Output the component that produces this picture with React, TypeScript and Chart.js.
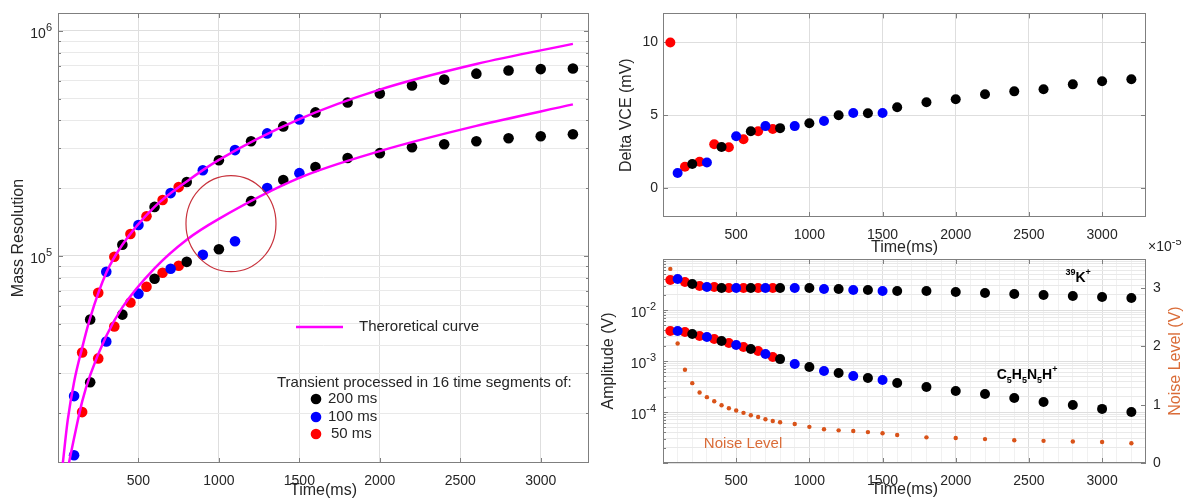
import React, { useEffect, useRef } from 'react';
import { Chart, registerables } from 'chart.js';

Chart.register(...registerables);

const FONT = "'Liberation Sans', Arial, Helvetica, sans-serif";
const AXIS_COLOR = '#262626';
const BOX_COLOR = '#7f7f7f';
const GRID_MAJOR = '#dedede';
const GRID_MINOR = '#e9e9e9';
const GRID_FAINT = '#f1f1f1';
const C_BLACK = '#000000';
const C_BLUE = '#0000ff';
const C_RED = '#ff0000';
const C_MAGENTA = '#ff00ff';
const C_NOISE = '#D95319';
const C_NOISE_TEXT = '#DA6C38';
const C_CIRCLE = '#c8323c';

Chart.defaults.font.family = FONT;
Chart.defaults.color = AXIS_COLOR;

// ---------- time bases (ms) ----------
const T_BLACK = [200, 400, 600, 800, 1000, 1200, 1400, 1600, 1800, 2000, 2200, 2400, 2600, 2800, 3000, 3200];
const T_BLUE = [100, 300, 500, 700, 900, 1100, 1300, 1500];
const T_RED = [150, 250, 350, 450, 550, 650, 750];
const T_RED_FULL = [50, 150, 250, 350, 450, 550, 650, 750];
const T_NOISE = [50, 100, 150, 200, 250, 300, 350, 400, 450, 500, 550, 600, 650, 700, 750, 800, 900, 1000, 1100, 1200, 1300, 1400, 1500, 1600, 1800, 2000, 2200, 2400, 2600, 2800, 3000, 3200];

// ---------- tick labels ----------
const X_TICKS = [500, 1000, 1500, 2000, 2500, 3000];
const RES_EXPONENTS = [5, 6];
const AMP_EXPONENTS = [-2, -3, -4];
const DVCE_TICKS = [0, 5, 10];
const NOISE_TICKS = [0, 1, 2, 3];

// ---------- left panel: mass resolution ----------
const RES_UP_BLACK = [52100, 112000, 165000, 213000, 266000, 323000, 376000, 434000, 480000, 526000, 571000, 607000, 645000, 666000, 676000, 680000];
const RES_UP_BLUE = [23800, 84900, 137000, 190000, 240000, 295000, 350000, 404000];
const RES_UP_RED = [37200, 68500, 99000, 125000, 150000, 177000, 202000];
const RES_LOW_BLACK = [27400, 54800, 79100, 94000, 107000, 175000, 217000, 248000, 272000, 286000, 304000, 313000, 323000, 333000, 340000, 347000];
const RES_LOW_BLUE = [13000, 41600, 67900, 87600, 101000, 116000, 200000, 233000];
const RES_LOW_RED = [20200, 35000, 48500, 62000, 72900, 84100, 90300];

const T_THEORY_UP = [30, 60, 100, 150, 200, 300, 400, 600, 800, 1000, 1500, 2000, 2600, 3200];
const RES_THEORY_UP = [12000, 18500, 27500, 39000, 53000, 84000, 112000, 165000, 214000, 267000, 405000, 548000, 712000, 875000];
const T_THEORY_LOW = [68, 100, 150, 200, 300, 400, 600, 800, 1000, 1500, 2000, 2600, 3200];
const RES_THEORY_LOW = [12000, 15500, 22500, 29500, 44000, 59000, 88000, 118000, 146000, 222000, 292000, 378000, 471000];

const CIRCLE_T = 1075;
const CIRCLE_RES = 139000;

// ---------- top right: delta VCE (mV) ----------
const DVCE_BLACK = [1.64, 2.81, 3.9, 4.11, 4.45, 5.0, 5.14, 5.55, 5.89, 6.1, 6.44, 6.64, 6.78, 7.12, 7.33, 7.47];
const DVCE_BLUE = [1.03, 1.75, 3.55, 4.25, 4.25, 4.6, 5.15, 5.15];
const DVCE_RED = [10, 1.45, 1.8, 3.0, 2.8, 3.35, 3.9, 4.05];

// ---------- bottom right: amplitude (V) and noise (x1e-5 V) ----------
const AMP_K_BLACK = [0.0323, 0.027, 0.027, 0.027, 0.027, 0.0258, 0.0247, 0.0236, 0.0236, 0.0226, 0.0216, 0.0206, 0.0197, 0.0188, 0.018, 0.0172];
const AMP_K_BLUE = [0.0405, 0.0283, 0.027, 0.027, 0.027, 0.0258, 0.0247, 0.0236];
const AMP_K_RED = [0.0387, 0.0354, 0.0296, 0.0283, 0.027, 0.027, 0.027, 0.027];
const AMP_C_BLACK = [0.00338, 0.00247, 0.00172, 0.00109, 0.000762, 0.000582, 0.000464, 0.00037, 0.000309, 0.000258, 0.000225, 0.000188, 0.000157, 0.000137, 0.000115, 0.0001];
const AMP_C_BLUE = [0.00387, 0.00296, 0.00206, 0.00137, 0.000873, 0.000637, 0.000508, 0.000424];
const AMP_C_RED = [0.00387, 0.0037, 0.00309, 0.0027, 0.00225, 0.00188, 0.00157, 0.0012];
const NOISE = [3.33, 2.05, 1.6, 1.37, 1.21, 1.13, 1.06, 0.99, 0.94, 0.9, 0.86, 0.82, 0.79, 0.75, 0.72, 0.7, 0.67, 0.62, 0.58, 0.56, 0.55, 0.53, 0.51, 0.48, 0.44, 0.43, 0.41, 0.39, 0.38, 0.37, 0.36, 0.34];

const LABEL_K = { t: 2750, v: 0.042 };
const LABEL_C = { t: 2280, v: 0.00053 };
const LABEL_NOISE = { t: 547, v: 2.36e-5 };

// ---------- helpers ----------
const pts = (xs: number[], ys: number[]) => xs.map((x, i) => ({ x, y: ys[i] }));
const isPow10 = (v: number) => Math.abs(Math.log10(v) - Math.round(Math.log10(v))) < 1e-6;
function logGrid(minExp: number, maxExp: number) {
  const out: number[] = [];
  for (let e = minExp; e < maxExp; e++) {
    for (let m = 1; m <= 9; m++) out.push(Number((m * Math.pow(10, e)).toPrecision(3)));
  }
  out.push(Number(Math.pow(10, maxExp).toPrecision(3)));
  return out;
}

function dots(xs: number[], ys: number[], color: string, r: number, yAxisID = 'y') {
  return {
    data: pts(xs, ys),
    yAxisID,
    showLine: false,
    backgroundColor: color,
    borderColor: color,
    pointRadius: r,
    pointHoverRadius: r,
    pointBorderWidth: 0,
    clip: false,
  };
}

function drawPow10(ctx: CanvasRenderingContext2D, xRight: number, y: number, exp: number) {
  const e = String(exp);
  ctx.save();
  ctx.fillStyle = AXIS_COLOR;
  ctx.textBaseline = 'middle';
  ctx.textAlign = 'left';
  ctx.font = `11px ${FONT}`;
  const ew = ctx.measureText(e).width;
  ctx.font = `14px ${FONT}`;
  const bw = ctx.measureText('10').width;
  ctx.fillText('10', xRight - ew - bw, y + 3);
  ctx.font = `11px ${FONT}`;
  ctx.fillText(e, xRight - ew, y - 3);
  ctx.restore();
}

type Seg = [string, 'n' | 'sub' | 'sup'];
function drawChem(ctx: CanvasRenderingContext2D, x: number, y: number, segs: Seg[]) {
  ctx.save();
  ctx.fillStyle = '#000';
  ctx.textBaseline = 'middle';
  ctx.textAlign = 'left';
  let cx = x;
  for (const [s, kind] of segs) {
    ctx.font = kind === 'n' ? `bold 14px ${FONT}` : `bold 9px ${FONT}`;
    const dy = kind === 'sub' ? 5 : kind === 'sup' ? -6 : 0;
    ctx.fillText(s, cx, y + dy);
    cx += ctx.measureText(s).width;
  }
  ctx.restore();
}

const framePlugin = {
  id: 'matlabFrame',
  beforeDatasetsDraw(chart: any) {
    const { ctx, chartArea: a } = chart;
    const xs = chart.scales.x;
    const ys = chart.scales.y;
    const y1 = chart.scales.y1;
    ctx.save();
    ctx.strokeStyle = BOX_COLOR;
    ctx.lineWidth = 1;
    ctx.beginPath();
    X_TICKS.forEach((v) => {
      const px = Math.round(xs.getPixelForValue(v)) + 0.5;
      ctx.moveTo(px, a.bottom);
      ctx.lineTo(px, a.bottom - 5);
      ctx.moveTo(px, a.top);
      ctx.lineTo(px, a.top + 5);
    });
    const isLog = ys.type === 'logarithmic';
    ys.ticks.forEach((t: any) => {
      const py = Math.round(ys.getPixelForValue(t.value)) + 0.5;
      const len = !isLog || isPow10(t.value) ? 5 : 3;
      ctx.moveTo(a.left, py);
      ctx.lineTo(a.left + len, py);
      if (!y1) {
        ctx.moveTo(a.right, py);
        ctx.lineTo(a.right - len, py);
      }
    });
    if (y1) {
      y1.ticks.forEach((t: any) => {
        const py = Math.round(y1.getPixelForValue(t.value)) + 0.5;
        ctx.moveTo(a.right, py);
        ctx.lineTo(a.right - 5, py);
      });
    }
    ctx.stroke();
    ctx.strokeRect(Math.round(a.left) + 0.5, Math.round(a.top) + 0.5, Math.round(a.right - a.left) - 1, Math.round(a.bottom - a.top) - 1);
    ctx.restore();
  },
};

const baseOptions = (padding: any) => ({
  animation: false,
  responsive: false,
  events: [],
  layout: { padding },
  plugins: { legend: { display: false }, tooltip: { enabled: false } },
});

const xScale = (height: number, tickPad: number, titleBottom: number, allHundreds = false) => ({
  type: 'linear',
  min: 0,
  max: 3300,
  afterBuildTicks: (s: any) => {
    const vals = allHundreds ? Array.from({ length: 32 }, (_, i) => (i + 1) * 100) : X_TICKS;
    s.ticks = vals.map((v) => ({ value: v }));
  },
  afterFit: (s: any) => {
    s.height = height;
  },
  grid: {
    drawTicks: false,
    color: (c: any) => (c.tick && X_TICKS.includes(c.tick.value) ? GRID_MAJOR : GRID_FAINT),
  },
  border: { display: false },
  ticks: {
    autoSkip: false,
    maxRotation: 0,
    padding: tickPad,
    color: AXIS_COLOR,
    font: { size: 14, family: FONT },
    callback: (v: any) => (X_TICKS.includes(Number(v)) ? String(v) : ''),
  },
  title: {
    display: true,
    text: 'Time(ms)',
    color: AXIS_COLOR,
    font: { size: 16, family: FONT },
    padding: { top: 0, bottom: titleBottom },
  },
});

function leftConfig(): any {
  const theory = (xs: number[], ys: number[]) => ({
    data: pts(xs, ys),
    showLine: true,
    borderColor: C_MAGENTA,
    backgroundColor: C_MAGENTA,
    borderWidth: 2.5,
    pointRadius: 0,
    pointHoverRadius: 0,
    cubicInterpolationMode: 'monotone',
    fill: false,
  });
  const decor = {
    id: 'leftDecor',
    afterDatasetsDraw(chart: any) {
      const { ctx, chartArea: a } = chart;
      const xs = chart.scales.x;
      const ys = chart.scales.y;
      // red circle annotation
      ctx.save();
      ctx.strokeStyle = C_CIRCLE;
      ctx.lineWidth = 1.2;
      ctx.beginPath();
      ctx.ellipse(xs.getPixelForValue(CIRCLE_T), ys.getPixelForValue(CIRCLE_RES), 45, 48, 0, 0, Math.PI * 2);
      ctx.stroke();
      ctx.restore();
      // legend
      const lx = a.left;
      ctx.save();
      ctx.strokeStyle = C_MAGENTA;
      ctx.lineWidth = 2.5;
      ctx.beginPath();
      ctx.moveTo(lx + 238, 327);
      ctx.lineTo(lx + 285, 327);
      ctx.stroke();
      ctx.fillStyle = AXIS_COLOR;
      ctx.font = `15px ${FONT}`;
      ctx.textBaseline = 'middle';
      ctx.textAlign = 'left';
      ctx.fillText('Theroretical curve', lx + 301, 327);
      ctx.fillText('Transient processed in 16 time segments of:', lx + 219, 383);
      const items: [string, string, number, number][] = [
        ['200 ms', C_BLACK, 399, 270],
        ['100 ms', C_BLUE, 417, 270],
        ['50 ms', C_RED, 434, 273],
      ];
      items.forEach(([t, c, y, tx]) => {
        ctx.fillStyle = c;
        ctx.beginPath();
        ctx.arc(lx + 258, y, 5.3, 0, Math.PI * 2);
        ctx.fill();
        ctx.fillStyle = AXIS_COLOR;
        ctx.fillText(t, lx + tx, y);
      });
      ctx.restore();
      RES_EXPONENTS.forEach((e) => drawPow10(ctx, a.left - 6, ys.getPixelForValue(Math.pow(10, e)), e));
    },
  };
  const resTicks = logGrid(4, 6).filter((v) => v >= 12000 && v <= 1.2e6);
  return {
    type: 'scatter',
    data: {
      datasets: [
        theory(T_THEORY_UP, RES_THEORY_UP),
        theory(T_THEORY_LOW, RES_THEORY_LOW),
        dots(T_BLACK, RES_UP_BLACK, C_BLACK, 5.3),
        dots(T_BLACK, RES_LOW_BLACK, C_BLACK, 5.3),
        dots(T_BLUE, RES_UP_BLUE, C_BLUE, 5.3),
        dots(T_BLUE, RES_LOW_BLUE, C_BLUE, 5.3),
        dots(T_RED, RES_UP_RED, C_RED, 5.3),
        dots(T_RED, RES_LOW_RED, C_RED, 5.3),
      ],
    },
    options: {
      ...baseOptions({ top: 13, right: 11, left: 0, bottom: 0 }),
      scales: {
        x: xScale(42, 10, 4.4),
        y: {
          type: 'logarithmic',
          min: 12000,
          max: 1.2e6,
          afterBuildTicks: (s: any) => {
            s.ticks = resTicks.map((v) => ({ value: v }));
          },
          afterFit: (s: any) => {
            s.width = 58;
          },
          grid: { drawTicks: false, color: (c: any) => (c.tick && isPow10(c.tick.value) ? GRID_MAJOR : GRID_MINOR) },
          border: { display: false },
          ticks: { display: false, autoSkip: false },
          title: { display: true, text: 'Mass Resolution', color: AXIS_COLOR, font: { size: 16, family: FONT }, padding: { top: 9.3, bottom: 0 } },
        },
      },
    },
    plugins: [framePlugin, decor],
  };
}

function vceConfig(): any {
  return {
    type: 'scatter',
    data: {
      datasets: [
        dots(T_BLACK, DVCE_BLACK, C_BLACK, 5),
        dots(T_BLUE, DVCE_BLUE, C_BLUE, 5),
        dots(T_RED_FULL, DVCE_RED, C_RED, 5),
      ],
    },
    options: {
      ...baseOptions({ top: 13, right: 41, left: 0, bottom: 0 }),
      scales: {
        x: xScale(45, 10, 4.7),
        y: {
          type: 'linear',
          min: -2,
          max: 12,
          afterBuildTicks: (s: any) => {
            s.ticks = DVCE_TICKS.map((v) => ({ value: v }));
          },
          afterFit: (s: any) => {
            s.width = 73;
          },
          grid: { drawTicks: false, color: GRID_MAJOR },
          border: { display: false },
          ticks: { autoSkip: false, padding: 5, color: AXIS_COLOR, font: { size: 14, family: FONT } },
          title: { display: true, text: 'Delta VCE (mV)', color: AXIS_COLOR, font: { size: 16, family: FONT }, padding: { top: 27.4, bottom: 0 } },
        },
      },
    },
    plugins: [framePlugin],
  };
}

function ampConfig(): any {
  const ampTicks = logGrid(-5, -1);
  const decor = {
    id: 'ampDecor',
    afterDatasetsDraw(chart: any) {
      const { ctx, chartArea: a } = chart;
      const xs = chart.scales.x;
      const ys = chart.scales.y;
      AMP_EXPONENTS.forEach((e) => drawPow10(ctx, a.left - 7, ys.getPixelForValue(Math.pow(10, e)), e));
      // x10^-5 multiplier of right axis
      ctx.save();
      ctx.fillStyle = AXIS_COLOR;
      ctx.textBaseline = 'middle';
      ctx.textAlign = 'left';
      ctx.font = `14px ${FONT}`;
      ctx.fillText('\u00d710', a.right + 2, a.top - 11.5);
      const w = ctx.measureText('\u00d710').width;
      ctx.font = `11px ${FONT}`;
      ctx.fillText('-5', a.right + 2 + w, a.top - 17);
      // right axis title
      ctx.fillStyle = C_NOISE_TEXT;
      ctx.font = `16px ${FONT}`;
      ctx.textAlign = 'center';
      ctx.translate(a.right + 30, (a.top + a.bottom) / 2);
      ctx.rotate(-Math.PI / 2);
      ctx.fillText('Noise Level (V)', 0, 0);
      ctx.restore();
      // in-plot labels
      ctx.save();
      ctx.fillStyle = C_NOISE_TEXT;
      ctx.font = `15px ${FONT}`;
      ctx.textBaseline = 'middle';
      ctx.textAlign = 'center';
      ctx.fillText('Noise Level', xs.getPixelForValue(LABEL_NOISE.t), ys.getPixelForValue(LABEL_NOISE.v));
      ctx.restore();
      drawChem(ctx, xs.getPixelForValue(LABEL_K.t), ys.getPixelForValue(LABEL_K.v), [
        ['39', 'sup'],
        ['K', 'n'],
        ['+', 'sup'],
      ]);
      drawChem(ctx, xs.getPixelForValue(LABEL_C.t), ys.getPixelForValue(LABEL_C.v), [
        ['C', 'n'],
        ['5', 'sub'],
        ['H', 'n'],
        ['5', 'sub'],
        ['N', 'n'],
        ['5', 'sub'],
        ['H', 'n'],
        ['+', 'sup'],
      ]);
    },
  };
  return {
    type: 'scatter',
    data: {
      datasets: [
        dots(T_BLACK, AMP_K_BLACK, C_BLACK, 5),
        dots(T_BLACK, AMP_C_BLACK, C_BLACK, 5),
        dots(T_BLUE, AMP_K_BLUE, C_BLUE, 5),
        dots(T_BLUE, AMP_C_BLUE, C_BLUE, 5),
        dots(T_RED_FULL, AMP_K_RED, C_RED, 5),
        dots(T_RED_FULL, AMP_C_RED, C_RED, 5),
        dots(T_NOISE, NOISE, C_NOISE, 2.2, 'y1'),
      ],
    },
    options: {
      ...baseOptions({ top: 19, right: 0, left: 0, bottom: 0 }),
      scales: {
        x: xScale(42, 10, 5.9, true),
        y: {
          type: 'logarithmic',
          position: 'left',
          min: 1e-5,
          max: 1e-1,
          afterBuildTicks: (s: any) => {
            s.ticks = ampTicks.map((v) => ({ value: v }));
          },
          afterFit: (s: any) => {
            s.width = 73;
          },
          grid: { drawTicks: false, color: (c: any) => (c.tick && isPow10(c.tick.value) ? GRID_MAJOR : GRID_MINOR) },
          border: { display: false },
          ticks: { display: false, autoSkip: false },
          title: { display: true, text: 'Amplitude (V)', color: AXIS_COLOR, font: { size: 16, family: FONT }, padding: { top: 9, bottom: 0 } },
        },
        y1: {
          type: 'linear',
          position: 'right',
          min: 0,
          max: 3.5,
          afterBuildTicks: (s: any) => {
            s.ticks = NOISE_TICKS.map((v) => ({ value: v }));
          },
          afterFit: (s: any) => {
            s.width = 41;
          },
          grid: { drawOnChartArea: false, drawTicks: false },
          border: { display: false },
          ticks: { autoSkip: false, padding: 7, color: AXIS_COLOR, font: { size: 14, family: FONT } },
        },
      },
    },
    plugins: [framePlugin, decor],
  };
}

export default function App() {
  const leftRef = useRef<HTMLCanvasElement>(null);
  const vceRef = useRef<HTMLCanvasElement>(null);
  const ampRef = useRef<HTMLCanvasElement>(null);
  useEffect(() => {
    const charts = [
      new Chart(leftRef.current as HTMLCanvasElement, leftConfig()),
      new Chart(vceRef.current as HTMLCanvasElement, vceConfig()),
      new Chart(ampRef.current as HTMLCanvasElement, ampConfig()),
    ];
    return () => charts.forEach((c) => c.destroy());
  }, []);
  return (
    <div style={{ position: 'fixed', left: 0, top: 0, width: 1187, height: 499, overflow: 'hidden', background: '#ffffff' }}>
      <canvas ref={leftRef} width={600} height={505} style={{ position: 'absolute', left: 0, top: 0, width: 600, height: 505 }} />
      <canvas ref={vceRef} width={597} height={262} style={{ position: 'absolute', left: 590, top: 0, width: 597, height: 262 }} />
      <canvas ref={ampRef} width={597} height={265} style={{ position: 'absolute', left: 590, top: 240, width: 597, height: 265 }} />
    </div>
  );
}
